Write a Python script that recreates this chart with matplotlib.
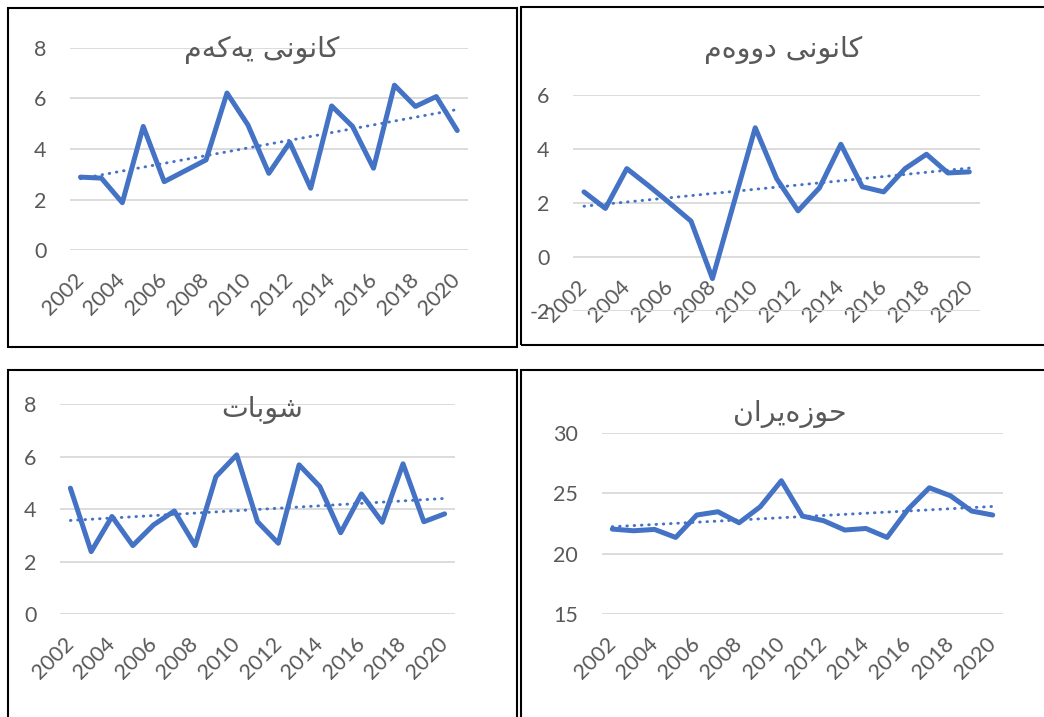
import numpy as np
import matplotlib
matplotlib.use('Agg')
from matplotlib import pyplot as plt
from matplotlib.patches import Rectangle

plt.rcParams['axes.unicode_minus'] = False

'''
Data
'''
years = list(range(2002, 2021))
year_ticks = years[::2]

december = [2.89, 2.85, 1.88, 4.89, 2.71, 3.14, 3.57, 6.21, 4.95, 3.04,
            4.26, 2.45, 5.70, 4.89, 3.24, 6.52, 5.68, 6.07, 4.73]
january = [2.41, 1.80, 3.27, 2.65, 2.00, 1.33, -0.79, 2.00, 4.78, 2.90,
           1.71, 2.56, 4.17, 2.60, 2.41, 3.27, 3.80, 3.11, 3.15]
february = [4.80, 2.38, 3.72, 2.61, 3.40, 3.93, 2.61, 5.24, 6.07, 3.52,
            2.70, 5.69, 4.86, 3.10, 4.58, 3.50, 5.73, 3.52, 3.82]
june = [22.04, 21.90, 22.01, 21.35, 23.20, 23.47, 22.56, 23.88, 26.03, 23.11,
        22.73, 21.96, 22.09, 21.35, 23.69, 25.45, 24.79, 23.53, 23.20]

titles = ['کانونی یەکەم', 'کانونی دووەم', 'شوبات', 'حوزەیران']

'''
Simple Arabic-script shaping (matplotlib has no text shaping)
'''
# isolated, final, initial, medial
forms = {
    'ا': ('\uFE8D', '\uFE8E', None, None),
    'و': ('\uFEED', '\uFEEE', None, None),
    'د': ('\uFEA9', '\uFEAA', None, None),
    'ز': ('\uFEAF', '\uFEB0', None, None),
    'ر': ('\uFEAD', '\uFEAE', None, None),
    'ە': ('\u06D5', '\uFEEA', None, None),
    'ک': ('\uFB8E', '\uFB8F', '\uFB90', '\uFB91'),
    'ن': ('\uFEE5', '\uFEE6', '\uFEE7', '\uFEE8'),
    'ی': ('\uFBFC', '\uFBFD', '\uFBFE', '\uFBFF'),
    'م': ('\uFEE1', '\uFEE2', '\uFEE3', '\uFEE4'),
    'ش': ('\uFEB5', '\uFEB6', '\uFEB7', '\uFEB8'),
    'ب': ('\uFE8F', '\uFE90', '\uFE91', '\uFE92'),
    'ت': ('\uFE95', '\uFE96', '\uFE97', '\uFE98'),
    'ح': ('\uFEA1', '\uFEA2', '\uFEA3', '\uFEA4'),
}
dual = set('کنیمشبتح')


def shape(text):
    out = []
    for i, ch in enumerate(text):
        if ch not in forms:
            out.append(ch)
            continue
        prev = text[i - 1] if i > 0 else ''
        nxt = text[i + 1] if i + 1 < len(text) else ''
        jp = prev in dual
        jn = ch in dual and nxt in forms
        iso, fin, ini, med = forms[ch]
        if jp and jn:
            out.append(med)
        elif jp:
            out.append(fin)
        elif jn:
            out.append(ini)
        else:
            out.append(iso)
    return ''.join(reversed(out))


'''
Figure
'''
W, H = 1044, 717
fig = plt.figure(figsize=(W / 100, H / 100), dpi=100)
fig.patch.set_facecolor('white')

blue = '#4472C4'
grey = '#595959'


def px_axes(left, top, right, bottom):
    return fig.add_axes([left / W, 1 - bottom / H, (right - left) / W, (bottom - top) / H])


def frame(x0, y0, x1, y1):
    fig.add_artist(Rectangle((x0 / W, 1 - y1 / H), (x1 - x0) / W, (y1 - y0) / H,
                             transform=fig.transFigure, fill=False,
                             ec='black', lw=1.5))


def panel(box, values, ylim, yticks, cross):
    ax = px_axes(*box)
    ax.plot(years, values, color=blue, lw=3.6,
            solid_joinstyle='round', solid_capstyle='round', zorder=3)
    # linear trendline
    fit = np.polyfit(years, values, 1)
    ax.plot(years, np.polyval(fit, years), color=blue, lw=2.1,
            linestyle=(0, (0.2, 2.3)), dash_capstyle='round', zorder=4)
    ax.set_xlim(2001.5, 2020.5)
    ax.set_ylim(*ylim)
    ax.set_yticks(yticks)
    ax.set_xticks(year_ticks)
    ax.grid(axis='y', color='#D9D9D9', lw=1.3)
    ax.grid(axis='x', visible=False)
    ax.set_axisbelow(True)
    ax.patch.set_alpha(0)
    for s in ax.spines.values():
        s.set_visible(False)
    ax.spines['bottom'].set_position(('data', cross))
    ax.tick_params(length=0, labelsize=15.5, labelcolor=grey)
    ax.tick_params(axis='y', pad=17)
    ax.tick_params(axis='x', pad=19)
    for lab in ax.get_xticklabels():
        lab.set_rotation(45)
        lab.set_ha('right')
        lab.set_va('center')
        lab.set_rotation_mode('anchor')
    for lab in ax.get_xticklabels() + ax.get_yticklabels():
        lab.set_family('Lato')
    return ax


panel((70, 47.7, 467.7, 250.3), december, (0, 8), [0, 2, 4, 6, 8], 0)
panel((573.3, 94.7, 980, 311.3), january, (-2, 6), [-2, 0, 2, 4, 6], 0)
panel((60, 404.3, 455, 614), february, (0, 8), [0, 2, 4, 6, 8], 0)
panel((601.7, 432.7, 1003.3, 614.3), june, (15, 30), [15, 20, 25, 30], 15)

# chart titles
title_pos = [(262, 57), (783, 57), (262, 417), (790, 421)]
for t, (x, y) in zip(titles, title_pos):
    fig.text(x / W, 1 - y / H, shape(t), ha='center', va='baseline',
             fontsize=20.5, color=grey, family='DejaVu Sans')

# chart borders
frame(7.5, 8, 517, 347)
frame(520.5, 7, 1050, 345)
frame(7.5, 370, 517, 730)
frame(521, 370, 1050, 730)

plt.savefig('out.png', dpi=100)
